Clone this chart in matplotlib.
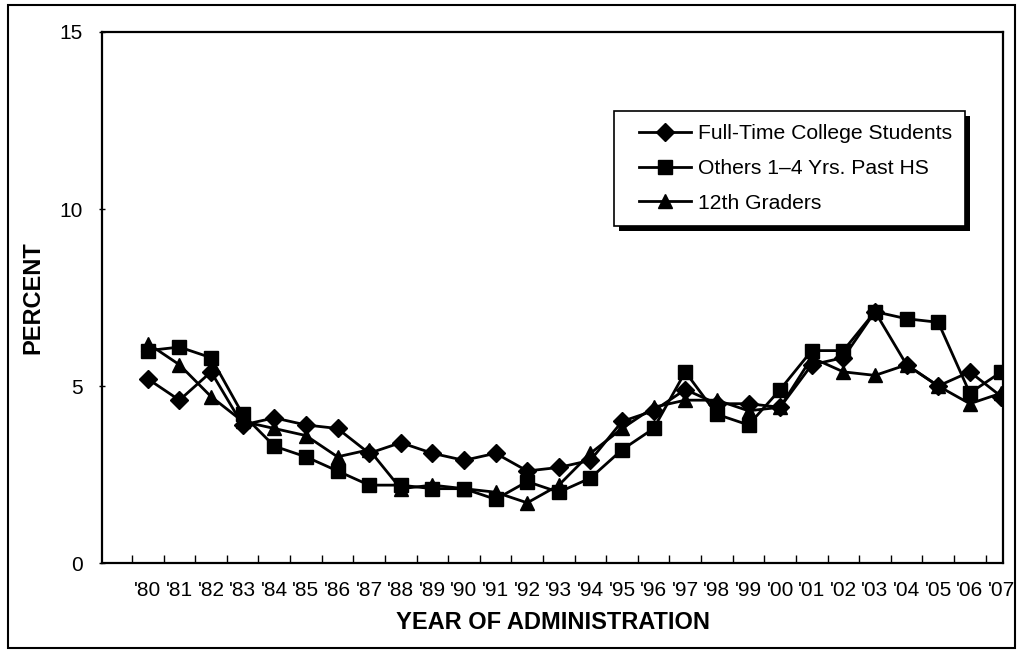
import numpy as np
import matplotlib.pyplot as plt
from matplotlib.patches import Rectangle
from matplotlib.legend_handler import HandlerLine2D

plt.rcParams['font.family'] = ['Liberation Sans', 'DejaVu Sans']

years = ["'80", "'81", "'82", "'83", "'84", "'85", "'86", "'87", "'88", "'89",
         "'90", "'91", "'92", "'93", "'94", "'95", "'96", "'97", "'98", "'99",
         "'00", "'01", "'02", "'03", "'04", "'05", "'06", "'07"]

college = [5.2, 4.6, 5.4, 3.9, 4.1, 3.9, 3.8, 3.1, 3.4, 3.1,
           2.9, 3.1, 2.6, 2.7, 2.9, 4.0, 4.3, 4.9, 4.5, 4.5,
           4.4, 5.6, 5.8, 7.1, 5.6, 5.0, 5.4, 4.7]
others = [6.0, 6.1, 5.8, 4.2, 3.3, 3.0, 2.6, 2.2, 2.2, 2.1,
          2.1, 1.8, 2.3, 2.0, 2.4, 3.2, 3.8, 5.4, 4.2, 3.9,
          4.9, 6.0, 6.0, 7.1, 6.9, 6.8, 4.8, 5.4]
grade12 = [6.2, 5.6, 4.7, 4.0, 3.8, 3.6, 3.0, 3.2, 2.1, 2.2,
           2.1, 2.0, 1.7, 2.2, 3.1, 3.8, 4.4, 4.6, 4.6, 4.3,
           4.4, 5.8, 5.4, 5.3, 5.6, 5.0, 4.5, 4.8]

x = np.arange(len(years))


class IndentedLine(HandlerLine2D):
    # leaves some blank room before the legend sample line
    indent = 9

    def create_artists(self, legend, orig_handle, xdescent, ydescent,
                       width, height, fontsize, trans):
        return super().create_artists(legend, orig_handle, xdescent - self.indent,
                                      ydescent, width - self.indent, height,
                                      fontsize, trans)


fig = plt.figure(figsize=(10.21, 6.53), dpi=100)
ax = fig.add_axes([0.0999, 0.1378, 0.8825, 0.8132])

ax.plot(x, college, color='black', lw=2, marker='D', ms=9.5, label='Full-Time College Students')
ax.plot(x, others, color='black', lw=2, marker='s', ms=10, label='Others 1\u20134 Yrs. Past HS')
ax.plot(x, grade12, color='black', lw=2, marker='^', ms=10.5, label='12th Graders')

ax.set_xlim(-1.45, 27.05)
ax.set_ylim(0, 15)
ax.set_yticks([0, 5, 10, 15])
ax.tick_params(axis='y', labelsize=15, length=4, direction='inout', width=1, pad=12)

# category boundaries get the tick marks, labels sit in the middle
ax.set_xticks(np.arange(len(years)) - 0.5)
ax.set_xticklabels([])
ax.set_xticks(x, minor=True)
ax.set_xticklabels(years, minor=True, fontsize=15)
ax.tick_params(axis='x', which='major', direction='in', length=6, width=1)
ax.tick_params(axis='x', which='minor', length=0, pad=13)

for s in ax.spines.values():
    s.set_linewidth(1.6)

ax.set_ylabel('PERCENT', fontsize=17, fontweight='bold', labelpad=11)
ax.set_xlabel('YEAR OF ADMINISTRATION', fontsize=17, fontweight='bold', labelpad=8)

leg = ax.legend(loc='upper left', bbox_to_anchor=(0.568, 0.851), borderaxespad=0,
                fontsize=15.2, frameon=True, fancybox=False, framealpha=1,
                edgecolor='black', handlelength=3.05, handletextpad=0.3,
                borderpad=0.62, labelspacing=0.75,
                handler_map={plt.Line2D: IndentedLine()})
leg.get_frame().set_linewidth(1.2)
leg.set_zorder(6)

# solid drop shadow behind the legend box
fig.canvas.draw()
bb = leg.get_window_extent()
ax.add_patch(Rectangle((bb.x0 + 5, bb.y0 - 5), bb.width, bb.height, transform=None,
                       facecolor='black', edgecolor='none', zorder=5.5, clip_on=False))

fig.add_artist(Rectangle((0.008, 0.008), 0.986, 0.985, transform=fig.transFigure,
                         fill=False, edgecolor='black', lw=1.5))

fig.savefig('out.png', dpi=100)
